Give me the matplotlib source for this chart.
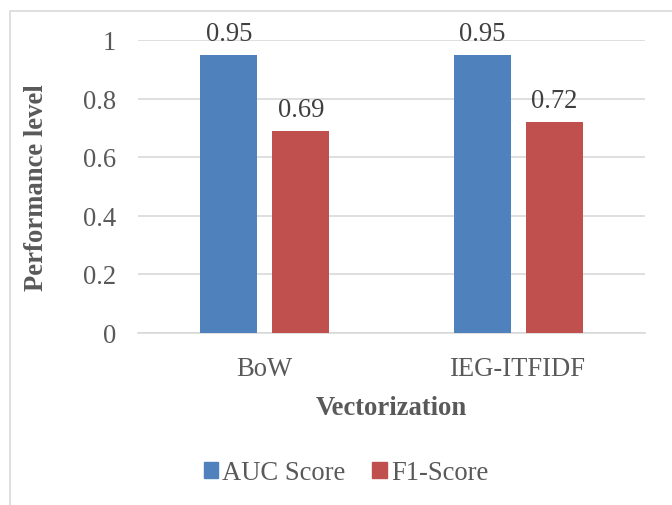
import matplotlib.pyplot as plt
from matplotlib.patches import Rectangle, Patch
import numpy as np

categories = ["BoW", "IEG-ITFIDF"]
auc_score = [0.95, 0.95]
f1_score = [0.69, 0.72]
series_names = ["AUC Score", "F1-Score"]
yticks = [0, 0.2, 0.4, 0.6, 0.8, 1]

BLUE = "#4F81BD"
RED = "#C0504D"
TEXT = "#595959"
GRID = "#D9D9D9"
FS = 19.2

plt.rcParams["font.family"] = ["Liberation Serif", "DejaVu Serif"]

W, H = 672, 506
fig = plt.figure(figsize=(W / 100, H / 100), dpi=100)

# chart frame (only left and top edges fall inside the image)
fig.patches.append(Rectangle((10 / W, -0.2), 1.2, 1 - 12 / H + 0.2,
                             transform=fig.transFigure, fill=False,
                             edgecolor=GRID, linewidth=1.2))

ax = fig.add_axes([138 / W, 1 - 333.5 / H, (645 - 138) / W, (333.5 - 41) / H])

x = np.arange(len(categories))
width = 0.225
offset = 0.142
b1 = ax.bar(x - offset, auc_score, width, color=BLUE, zorder=3)
b2 = ax.bar(x + offset, f1_score, width, color=RED, zorder=3)

for bars, vals in ((b1, auc_score), (b2, f1_score)):
    for rect, v in zip(bars, vals):
        ax.annotate(f"{v:g}", (rect.get_x() + rect.get_width() / 2, v),
                    xytext=(0, 10.5), textcoords="offset points",
                    ha="center", va="baseline", fontsize=FS, color="#404040")

ax.set_xlim(-0.5, 1.5)
ax.set_ylim(0, 1)
ax.set_yticks(yticks)
ax.set_yticklabels([f"{t:g}" for t in yticks])
ax.set_xticks(x)
ax.set_xticklabels(categories)
ax.tick_params(axis="both", length=0, labelsize=FS, labelcolor=TEXT)
ax.tick_params(axis="y", pad=16)
ax.tick_params(axis="x", pad=17)
ax.yaxis.grid(True, color=GRID, linewidth=1.2, zorder=0)
ax.set_axisbelow(True)
for s in ["top", "right", "left"]:
    ax.spines[s].set_visible(False)
ax.spines["bottom"].set_color(GRID)
ax.spines["bottom"].set_linewidth(1.2)

ax.set_ylabel("Performance level", fontsize=FS, fontweight="bold", color=TEXT, labelpad=24)
ax.set_xlabel("Vectorization", fontsize=FS, fontweight="bold", color=TEXT, labelpad=10)

handles = [Patch(color=BLUE), Patch(color=RED)]
fig.legend(handles, series_names, loc="center", bbox_to_anchor=(0.515, 1 - 474 / H),
           ncol=2, frameon=False, fontsize=FS, labelcolor=TEXT,
           handlelength=0.55, handleheight=0.55, handletextpad=0.15, columnspacing=1.0)

fig.savefig("out.png", dpi=100)
